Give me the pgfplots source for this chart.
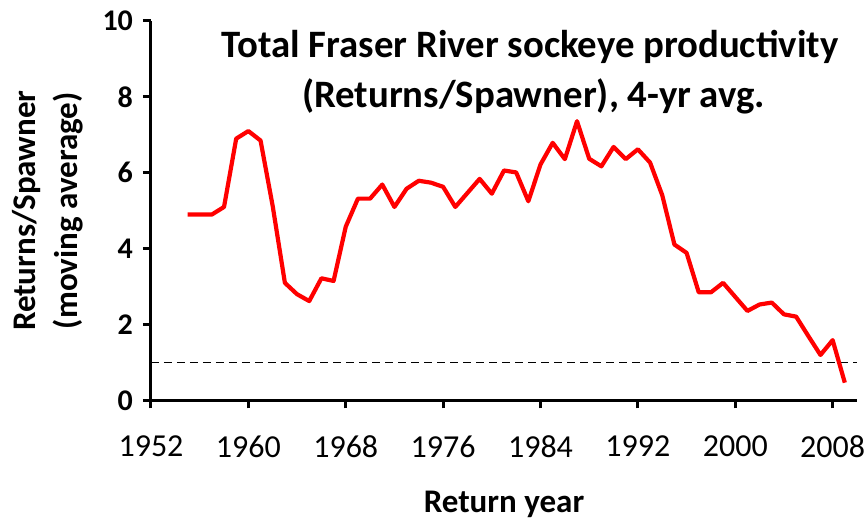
\documentclass[border=0pt]{standalone}
\usepackage{pgfplots}
\pgfplotsset{compat=1.18}
\usepackage{fontspec}
\setmainfont{Carlito}

% Fraser River sockeye, 4-yr moving average of returns per spawner
\begin{document}
\begin{tikzpicture}
\begin{axis}[
    at={(0,0)}, anchor=south west,
    scale only axis,
    width=353pt, height=189.75pt,
    xmin=1952, xmax=2010,
    ymin=0, ymax=10,
    axis x line*=bottom,
    axis y line*=left,
    axis line style={line width=1.5pt, -},
    xtick={1952,1960,...,2008},
    ytick={0,2,...,10},
    tick align=outside,
    major tick length=4pt,
    tick style={line width=1.5pt, black},
    /pgf/number format/assume math mode=true,
    /pgf/number format/1000 sep={},
    xticklabel style={font=\fontsize{16}{19}\selectfont, yshift=-10pt},
    yticklabel style={font=\fontsize{15}{18}\selectfont\bfseries, xshift=-1.5pt},
    xlabel={Return year},
    xlabel style={font=\fontsize{16.5}{20}\selectfont\bfseries,
        at={(axis description cs:0.5,-0.275)}, anchor=center},
    ylabel={Returns/Spawner\\(moving average)},
    ylabel style={font=\fontsize{16.5}{21}\selectfont\bfseries, align=center,
        at={(axis description cs:-0.146,0.5)}, anchor=center, rotate=0},
    clip=false,
]
\addplot[black, line width=0.9pt, dash pattern=on 4pt off 2.5pt] coordinates {(1952,1) (2010,1)};
\addplot[red, line width=2.1pt, line join=round] coordinates {
    (1955,4.90) (1956,4.90) (1957,4.90) (1958,5.10) (1959,6.90)
    (1960,7.10) (1961,6.85) (1962,5.12) (1963,3.10) (1964,2.80)
    (1965,2.62) (1966,3.22) (1967,3.15) (1968,4.58) (1969,5.32)
    (1970,5.32) (1971,5.69) (1972,5.10) (1973,5.58) (1974,5.79)
    (1975,5.74) (1976,5.63) (1977,5.10) (1978,5.47) (1979,5.84)
    (1980,5.45) (1981,6.06) (1982,6.01) (1983,5.25) (1984,6.22)
    (1985,6.79) (1986,6.36) (1987,7.36) (1988,6.37) (1989,6.17)
    (1990,6.68) (1991,6.36) (1992,6.62) (1993,6.27) (1994,5.41)
    (1995,4.11) (1996,3.89) (1997,2.85) (1998,2.85) (1999,3.10)
    (2000,2.73) (2001,2.36) (2002,2.53) (2003,2.58) (2004,2.27)
    (2005,2.21) (2006,1.70) (2007,1.20) (2008,1.59) (2009,0.47)
};
\node[anchor=base, font=\fontsize{19.4}{23}\selectfont\bfseries]
    at (axis description cs:0.537,0.9025) {Total Fraser River sockeye productivity};
\node[anchor=base, font=\fontsize{19.4}{23}\selectfont\bfseries]
    at (axis description cs:0.542,0.771) {(Returns/Spawner), 4-yr avg.};
\end{axis}
\pgfresetboundingbox
\path[use as bounding box] (-75.5pt,-61.25pt) rectangle (358pt,200.25pt);
\end{tikzpicture}
\end{document}
